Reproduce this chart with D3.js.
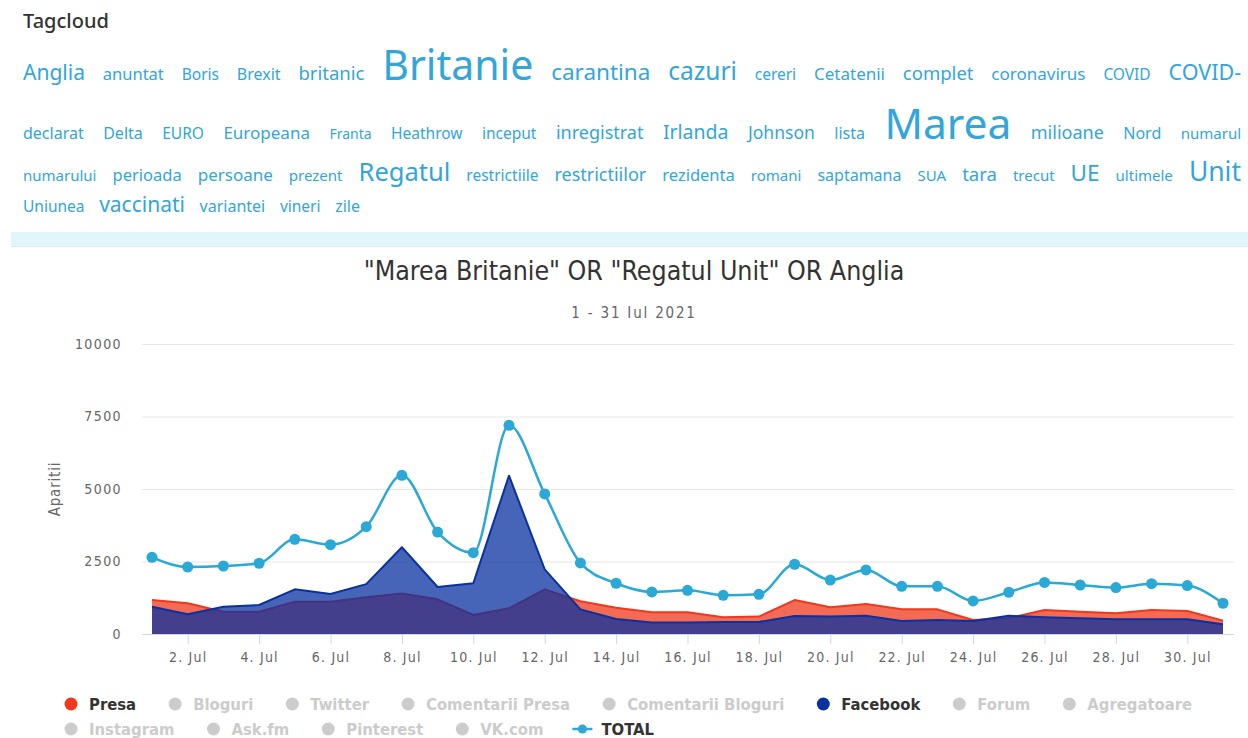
<!DOCTYPE html>
<html>
<head>
<meta charset="utf-8">
<script src="https://cdn.jsdelivr.net/npm/d3@7"></script>
<style>
  html, body { margin: 0; padding: 0; width: 1248px; height: 738px; overflow: hidden; background: #fff; }
  #tagtitle { position: absolute; left: 23px; top: 11px; font: 500 20px/20px "Noto Sans", sans-serif; color: #333; }
  #tags { position: absolute; left: 23px; top: 36px; width: 1218px; text-align: justify;
          font: 14px/1.4 "Noto Sans", sans-serif; word-spacing: 11px; }
  #tags span { line-height: 1.4; color: #32a6da; word-spacing: 0; }
  #band { position: absolute; left: 11px; top: 232px; width: 1237px; height: 14px; background: #e0f6fb;
          border-bottom: 1px solid #d0eff7; }
  svg { position: absolute; left: 0; top: 0; }
  .cond { font-family: "DejaVu Sans Condensed", "DejaVu Sans", sans-serif; font-stretch: condensed; }
</style>
</head>
<body>
<div id="tagtitle">Tagcloud</div>
<div id="tags"></div>
<div id="band"></div>
<svg id="chart" width="1248" height="738"></svg>
<script>
// tag cloud words and their weights
var tagWords = ["Anglia","anuntat","Boris","Brexit","britanic","Britanie","carantina","cazuri","cereri","Cetatenii",
  "complet","coronavirus","COVID","COVID-","declarat","Delta","EURO","Europeana","Franta","Heathrow","inceput",
  "inregistrat","Irlanda","Johnson","lista","Marea","milioane","Nord","numarul","numarului","perioada","persoane",
  "prezent","Regatul","restrictiile","restrictiilor","rezidenta","romani","saptamana","SUA","tara","trecut","UE",
  "ultimele","Unit","Uniunea","vaccinati","variantei","vineri","zile"]
var tagWeights = [14,5,3,4,9,54,17,21,3,6,
  9,6,3,15,4,4,3,6,0,3,3,
  8,11,7,4,57,8,4,2,2,5,6,
  2,23,3,8,5,2,4,2,9,2,17,
  2,25,3,14,4,3,4]

// chart data, 1 - 31 Jul 2021
var days = d3.range(1, 32)
var presa = [1170,1060,770,770,1115,1115,1265,1400,1195,655,885,1540,1130,905,750,750,575,600,1170,920,
  1035,850,850,485,540,830,770,715,830,795,460]
var facebook = [940,680,940,1000,1540,1380,1720,2990,1620,1750,5460,2230,850,520,400,400,415,415,620,600,
  630,450,485,450,630,575,540,505,505,505,335]
var total = [2645,2310,2345,2440,3265,3080,3700,5470,3515,2805,7195,4830,2450,1750,1450,1505,1335,1370,2405,1860,
  2210,1645,1645,1140,1440,1780,1690,1600,1735,1670,1060]
var yTicks = [0, 2500, 5000, 7500, 10000]
var xTicks = d3.range(2, 31, 2)

var legendNames = ["Presa","Bloguri","Twitter","Comentarii Presa","Comentarii Bloguri","Facebook","Forum",
  "Agregatoare","Instagram","Ask.fm","Pinterest","VK.com","TOTAL"]
var legendOn = [true,false,false,false,false,true,false,false,false,false,false,false,true]

var RED = '#ef381c', BLUE = '#0a31a0', CYAN = '#2aa8d6'

// ---- tag cloud ----
var sizeScale = d3.scaleLinear().domain([0, 58]).range([14, 43])
var tags = d3.select('#tags')
tagWords.forEach(function (w, i) {
  tags.append('span')
    .text(w)
    .style('font-size', sizeScale(tagWeights[i]) + 'px')
  tags.append('text').text(' ')   // dummy, replaced below
})
// plain spaces between the spans so justify can stretch them
tags.selectAll('text').remove()
tags.selectAll('span').each(function () {
  this.parentNode.insertBefore(document.createTextNode(' '), this.nextSibling)
})

// ---- chart ----
var svg = d3.select('#chart')
var plot = { left: 142, right: 1234, top: 344, bottom: 634 }

var x = d3.scaleLinear().domain([1, 31]).range([plot.left + 10, plot.right - 11])
var y = d3.scaleLinear().domain([0, 10000]).range([plot.bottom, plot.top])

svg.append('text').attr('class', 'cond')
  .attr('x', 634).attr('y', 280).attr('text-anchor', 'middle')
  .attr('font-size', 26.5).attr('fill', '#333')
  .text('"Marea Britanie" OR "Regatul Unit" OR Anglia')

svg.append('text').attr('class', 'cond')
  .attr('x', 634).attr('y', 318).attr('text-anchor', 'middle')
  .attr('font-size', 15).attr('fill', '#666').attr('letter-spacing', 1.8)
  .text('1 - 31 Iul 2021')

// y grid + labels
var yAxis = svg.append('g').attr('class', 'cond')
  .attr('transform', 'translate(' + plot.left + ',0)')
  .call(d3.axisLeft(y).tickValues(yTicks).tickSize(-(plot.right - plot.left)).tickPadding(20)
    .tickFormat(d3.format('d')))
yAxis.select('.domain').remove()
yAxis.selectAll('line').attr('stroke', '#e6e6e6')
yAxis.selectAll('text').attr('fill', '#666').attr('font-size', 14).attr('letter-spacing', 1.4)

svg.append('text').attr('class', 'cond')
  .attr('transform', 'translate(60,489) rotate(-90)')
  .attr('text-anchor', 'middle').attr('font-size', 15).attr('fill', '#666').attr('letter-spacing', 0.8)
  .text('Aparitii')

// x axis
var xAxis = svg.append('g').attr('class', 'cond')
  .attr('transform', 'translate(0,' + plot.bottom + ')')
  .call(d3.axisBottom(x).tickValues(xTicks).tickSize(10).tickPadding(8)
    .tickFormat(function (d) { return d + '. Jul' }))
xAxis.select('.domain').remove()
xAxis.selectAll('line').attr('stroke', '#ccd6eb')
xAxis.selectAll('text').attr('fill', '#666').attr('font-size', 14).attr('letter-spacing', 1.2)
svg.append('line')
  .attr('x1', plot.left).attr('x2', plot.right)
  .attr('y1', plot.bottom + 0.5).attr('y2', plot.bottom + 0.5)
  .attr('stroke', '#ccd6eb')

// series
function drawArea(values, color) {
  var area = d3.area()
    .x(function (d, i) { return x(days[i]) })
    .y0(y(0))
    .y1(function (d) { return y(d) })
  var line = d3.line()
    .x(function (d, i) { return x(days[i]) })
    .y(function (d) { return y(d) })
  svg.append('path').datum(values).attr('d', area).attr('fill', color).attr('fill-opacity', 0.75)
  svg.append('path').datum(values).attr('d', line).attr('fill', 'none')
    .attr('stroke', color).attr('stroke-width', 2).attr('stroke-linejoin', 'round')
}
drawArea(presa, RED)
drawArea(facebook, BLUE)

var totalLine = d3.line()
  .x(function (d, i) { return x(days[i]) })
  .y(function (d) { return y(d) })
  .curve(d3.curveMonotoneX)
svg.append('path').datum(total).attr('d', totalLine)
  .attr('fill', 'none').attr('stroke', CYAN).attr('stroke-width', 2.5)
svg.append('g').selectAll('circle')
  .data(total)
  .enter().append('circle')
    .attr('cx', function (d, i) { return x(days[i]) })
    .attr('cy', function (d) { return y(d) })
    .attr('r', 5.5)
    .attr('fill', CYAN)

// legend
var legend = svg.append('g').attr('class', 'cond')
var lx = 71, ly = 704
legendNames.forEach(function (name, i) {
  var item = legend.append('g')
  var col = legendOn[i] ? (name === 'TOTAL' ? CYAN : (name === 'Presa' ? RED : BLUE)) : '#cccccc'
  var t = item.append('text')
    .attr('y', 5.5).attr('font-size', 16.5).attr('font-weight', 'bold')
    .attr('fill', legendOn[i] ? '#333' : '#cccccc')
    .text(name)
  var w = t.node().getComputedTextLength()
  if (lx + 18 + w > 1225) { lx = 71; ly += 25 }
  item.attr('transform', 'translate(' + lx + ',' + ly + ')')
  t.attr('x', 18)
  if (name === 'TOTAL') {
    item.append('line').attr('x1', -10).attr('x2', 10).attr('stroke', col).attr('stroke-width', 2.5)
    item.append('circle').attr('r', 4.5).attr('fill', col)
    t.attr('x', 19)
  } else {
    item.append('circle').attr('r', 6.5).attr('fill', col)
  }
  lx += 18 + w + 39
})
</script>
</body>
</html>
